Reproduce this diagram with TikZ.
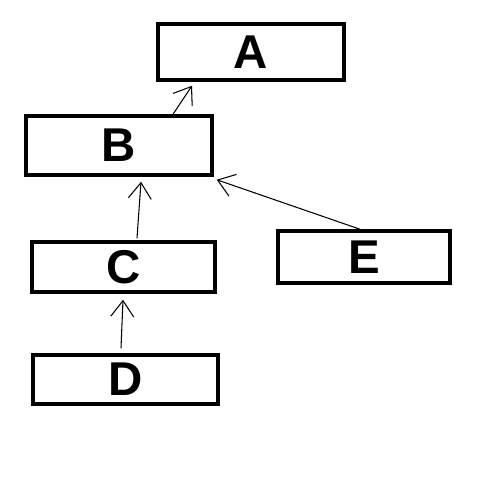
\documentclass[tikz,border=0pt]{standalone}
\usepackage{fontspec}
\setmainfont{Liberation Sans}
\usetikzlibrary{arrows.meta}
\begin{document}
\begin{tikzpicture}[x=0.02cm, y=-0.02cm]
    \tikzset{
        classBox/.style={draw, line width=2pt, inner sep=0pt,
            font=\fontsize{27}{30}\selectfont\bfseries},
        inherit/.style={line width=0.6pt,
            -{Straight Barb[length=0.32cm, width=0.46cm, line width=0.6pt]}}
    }

    % Canvas
    \useasboundingbox (0,0) rectangle (500,500);

    % Draw boxes
    \node[classBox, minimum width=3.72cm, minimum height=1.12cm] (A) at (251,52) {A};
    \node[classBox, minimum width=3.72cm, minimum height=1.18cm] (B) at (119,145.5) {B};
    \node[classBox, minimum width=3.66cm, minimum height=1.0cm] (C) at (123.5,267) {C};
    \node[classBox, minimum width=3.70cm, minimum height=0.98cm] (D) at (125.5,379.5) {D};
    \node[classBox, minimum width=3.44cm, minimum height=1.04cm] (E) at (364,257) {E};

    % Draw arrows
    \draw[inherit] ([xshift=1.08cm]B.north) -- ([xshift=-1.18cm, yshift=-0.08cm]A.south);
    \draw[inherit] ([xshift=0.27cm, yshift=0.04cm]C.north) -- ([xshift=0.44cm, yshift=-0.1cm]B.south);
    \draw[inherit] ([xshift=-0.09cm, yshift=0.1cm]D.north) -- ([xshift=-0.01cm, yshift=-0.12cm]C.south);
    \draw[inherit] ([xshift=-0.08cm]E.north) -- ([xshift=0.06cm, yshift=-0.06cm]B.south east);

\end{tikzpicture}
\end{document}
